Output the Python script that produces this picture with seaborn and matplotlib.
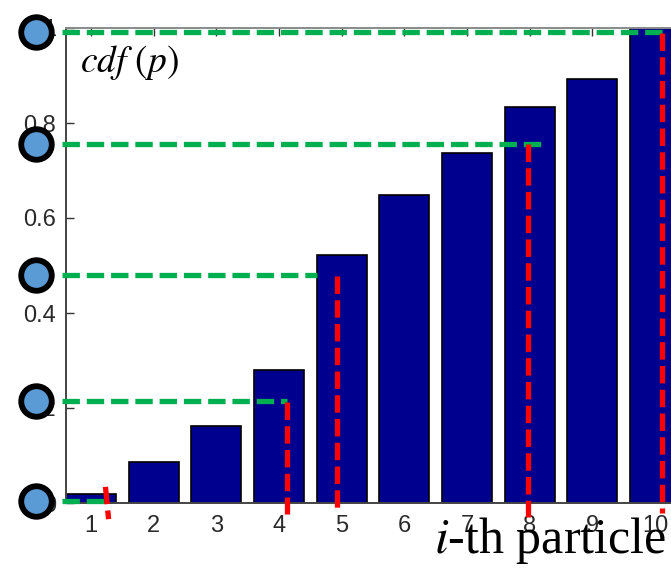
import matplotlib
matplotlib.use("Agg")
import matplotlib.pyplot as plt
import seaborn as sns
import pandas as pd

# cumulative weights of the particles
particles = [1, 2, 3, 4, 5, 6, 7, 8, 9, 10]
cdf_values = [0.02, 0.086, 0.162, 0.28, 0.522, 0.648, 0.737, 0.834, 0.893, 1.0]
y_ticks = [0, 0.2, 0.4, 0.6, 0.8, 1]
y_tick_labels = ["0", "0.2", "0.4", "0.6", "0.8", "1"]

# systematic resampling: sample levels u_j and the particle each one selects
levels = [0.004, 0.215, 0.48, 0.756, 0.992]
level_end_x = [1.25, 4.12, 4.6, 8.21, 10.17]
pick_x_top = [1.23, 4.12, 4.93, 7.98, 10.11]
pick_x_bottom = [1.28, 4.12, 4.93, 7.98, 10.11]
pick_top = [0.034, 0.213, 0.478, 0.756, 0.99]
pick_bottom = [-0.034, -0.023, -0.019, -0.03, -0.02]
level_start_x = 0.53
marker_x = 0.114

sns.set_style("ticks")
plt.rcParams["font.family"] = ["Liberation Sans", "DejaVu Sans"]
plt.rcParams["mathtext.fontset"] = "stix"

fig = plt.figure(figsize=(6.71, 5.72), dpi=100)
ax = fig.add_axes([66 / 671, 69 / 572, 614 / 671, 475 / 572])

df = pd.DataFrame({"particle": particles, "cdf": cdf_values})
sns.barplot(data=df, x="particle", y="cdf", native_scale=True, width=0.8,
            color="#00008F", saturation=1, edgecolor="black", linewidth=1.2,
            ax=ax)

ax.set_xlim(0.6, 10.4)
ax.set_ylim(0, 1)
ax.set_xticks(particles)
ax.set_xticklabels([str(p) for p in particles])
ax.set_yticks(y_ticks)
ax.set_yticklabels(y_tick_labels)
ax.set_xlabel("")
ax.set_ylabel("")
ax.tick_params(direction="in", length=6, width=1, top=True, right=True,
               labelsize=17, colors="#333333", labelcolor="#2a2a2a")
ax.tick_params(axis="x", pad=9)
ax.tick_params(axis="y", pad=7)
for side in ["left", "bottom", "top", "right"]:
    ax.spines[side].set_visible(True)
    ax.spines[side].set_color("#444444")
    ax.spines[side].set_linewidth(1.4)
ax.spines["top"].set_color("#8a8a8a")

# horizontal sample levels
for y, xe in zip(levels, level_end_x):
    ax.plot([level_start_x, xe], [y, y], color="#00B050", lw=3.8,
            dashes=(3.3, 1.3), clip_on=False, zorder=5)

# vertical drops to the selected particle
for xt, xb, yt, yb in zip(pick_x_top, pick_x_bottom, pick_top, pick_bottom):
    ax.plot([xt, xb], [yt, yb], color="#FF0000", lw=3.8,
            dashes=(3.3, 1.2), clip_on=False, zorder=6)

ax.plot([marker_x] * len(levels), levels, "o", ms=22, mfc="#5B9BD5",
        mec="black", mew=4.2, clip_on=False, zorder=10)

ax.text(0.023, 0.907, r"$cdf\,\,(p)$", transform=ax.transAxes, fontsize=27,
        ha="left", va="baseline", color="black")

fig.text(666 / 671, 19 / 572, r"$i$-th particle", ha="right", va="baseline",
         fontsize=36, family=["Liberation Serif", "DejaVu Serif"], color="black")

fig.savefig("out.png", dpi=100)
